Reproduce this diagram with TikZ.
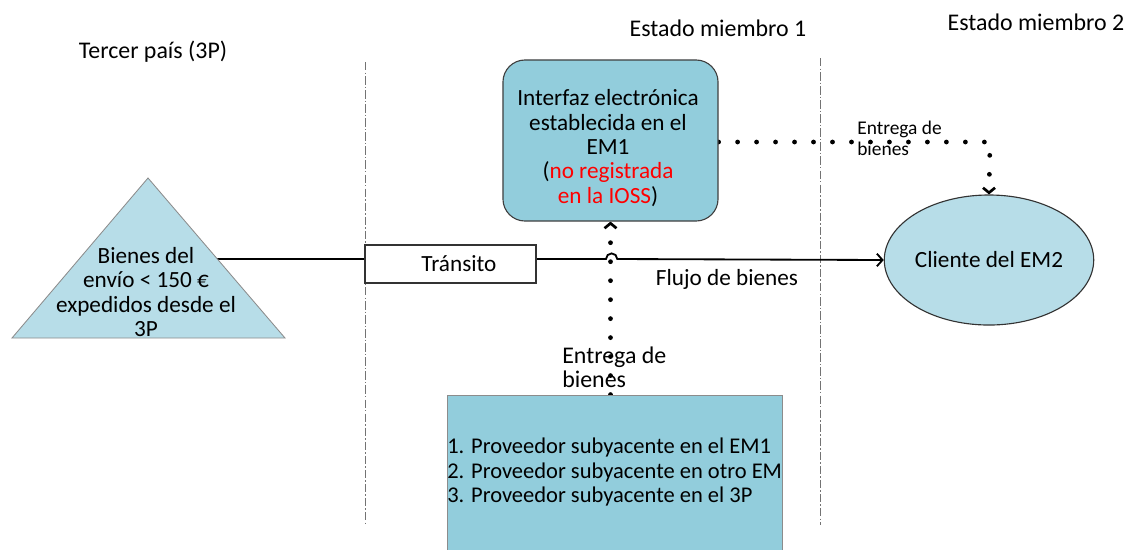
\documentclass[tikz,border=0pt]{standalone}
\usepackage{fontspec}
\setmainfont{Carlito}
\usetikzlibrary{arrows.meta,shapes.geometric}
\definecolor{AquaLight}{HTML}{B7DDE8}
\definecolor{AquaMid}{HTML}{92CDDC}
\definecolor{IossRed}{HTML}{FF0000}
\tikzset{>={Straight Barb[length=3.5pt,width=8.5pt,line width=1.9pt]}}
\tikzstyle{none}=[inner sep=0pt, align=center, font=\fontsize{16.5}{17.3}\selectfont]
\tikzstyle{head}=[inner sep=0pt, font=\fontsize{17}{18}\selectfont]
\tikzstyle{small}=[inner sep=0pt, align=left, font=\fontsize{13.8}{14.5}\selectfont]
\tikzstyle{platform}=[inner sep=0pt, draw=black!75, fill=AquaMid, rounded corners=0.55cm, line width=0.8pt, minimum width=5.375cm, minimum height=4.025cm]
\tikzstyle{supplier}=[inner sep=0pt, draw=black!45, fill=AquaMid, line width=0.6pt, minimum width=8.375cm, minimum height=3.925cm]
\tikzstyle{transit}=[style=none, draw=black!80, line width=0.8pt, minimum width=4.275cm, minimum height=0.95cm]
\tikzstyle{customer}=[style=none, ellipse, draw=black!80, fill=AquaLight, line width=0.8pt, minimum width=5.2cm, minimum height=3.25cm]
\tikzstyle{simple}=[-,draw=black,line width=1.3pt]
\tikzstyle{flow}=[-{Straight Barb[length=4pt,width=9pt,line width=1.3pt]},draw=black,line width=1.3pt]
\tikzstyle{dots}=[draw=black,line width=3.4pt,line cap=round,dash pattern=on 0pt off 13.5pt]
\tikzstyle{border}=[draw=black!55,line width=0.7pt,dash pattern=on 6pt off 1.5pt on 1pt off 1.5pt]
\pgfdeclarelayer{edgelayer}
\pgfdeclarelayer{nodelayer}
\pgfsetlayers{edgelayer,nodelayer,main}
\begin{document}
\begin{tikzpicture}[x=0.025cm, y=-0.025cm]
	\useasboundingbox (0, 0) rectangle (1136, 549);
	\begin{pgfonlayer}{nodelayer}
		% headers
		\node [style=head] (0) at (153, 52) {Tercer país (3P)};
		\node [style=head] (1) at (718, 28) {Estado miembro 1};
		\node [style=head] (2) at (1036, 22) {Estado miembro 2};

		% goods leaving the third country
		\coordinate (t0) at (148, 178);
		\coordinate (t1) at (12, 338);
		\coordinate (t2) at (285, 338);
		\filldraw [draw=black!45, fill=AquaLight, line width=0.6pt] (t0) -- (t1) -- (t2) -- cycle;
		\node [style=none] (3) at (146, 292) {Bienes del\\envío < 150 €\\expedidos desde el\\3P};
		\coordinate (4) at (217, 259);

		\node [style=transit] (5) at (450.5, 264) {\hspace{12pt}Tránsito};
		\node [style=platform] (6) at (610.5, 140.5) {};
		\node [style=none] (6t) at (608, 148) {Interfaz electrónica\\establecida en el\\EM1\\(\textcolor{IossRed}{no registrada}\\\textcolor{IossRed}{en la IOSS})};
		\node [style=customer] (7) at (989, 260) {Cliente del EM2};
		\node [style=supplier] (8) at (614.5, 473.5) {};
		\node [style=none, align=left, anchor=west, font=\fontsize{16}{17.6}\selectfont] (9) at (447, 472) {1. Proveedor subyacente en el EM1\\2. Proveedor subyacente en otro EM\\3. Proveedor subyacente en el 3P};

		\node [style=none] (10) at (727, 279) {Flujo de bienes};
		\node [style=none, align=left, anchor=north west, font=\fontsize{17}{17}\selectfont] (11) at (562, 347) {Entrega de\\bienes};
		\node [style=small, anchor=north west] (12) at (857, 121) {Entrega de\\bienes};
	\end{pgfonlayer}
	\begin{pgfonlayer}{edgelayer}
		% borders between the territories
		\draw [style=border] (365, 62) coordinate (b0) -- (365, 525) coordinate (b1);
		\draw [style=border] (820, 58) coordinate (b2) -- (820, 525) coordinate (b3);

		\draw [style=simple] (4) to (4 -| 5.west);
		\coordinate (h0) at (606, 259);
		\draw [style=flow] (5.east |- h0) -- (h0) arc [start angle=180, end angle=0, radius=4pt] -- (7.west);

		\draw [dots, shorten >=5pt] (8.north -| 6.south) -- (6.south);
		\draw [->] ([yshift=-0.1pt]6.south) -- (6.south);
		\coordinate (c0) at (990, 142);
		\draw [dots, shorten >=5pt] (6.east |- c0) -- (c0) -- (7.north);
		\draw [->] ([yshift=0.1pt]7.north) -- (7.north);
	\end{pgfonlayer}
\end{tikzpicture}
\end{document}
